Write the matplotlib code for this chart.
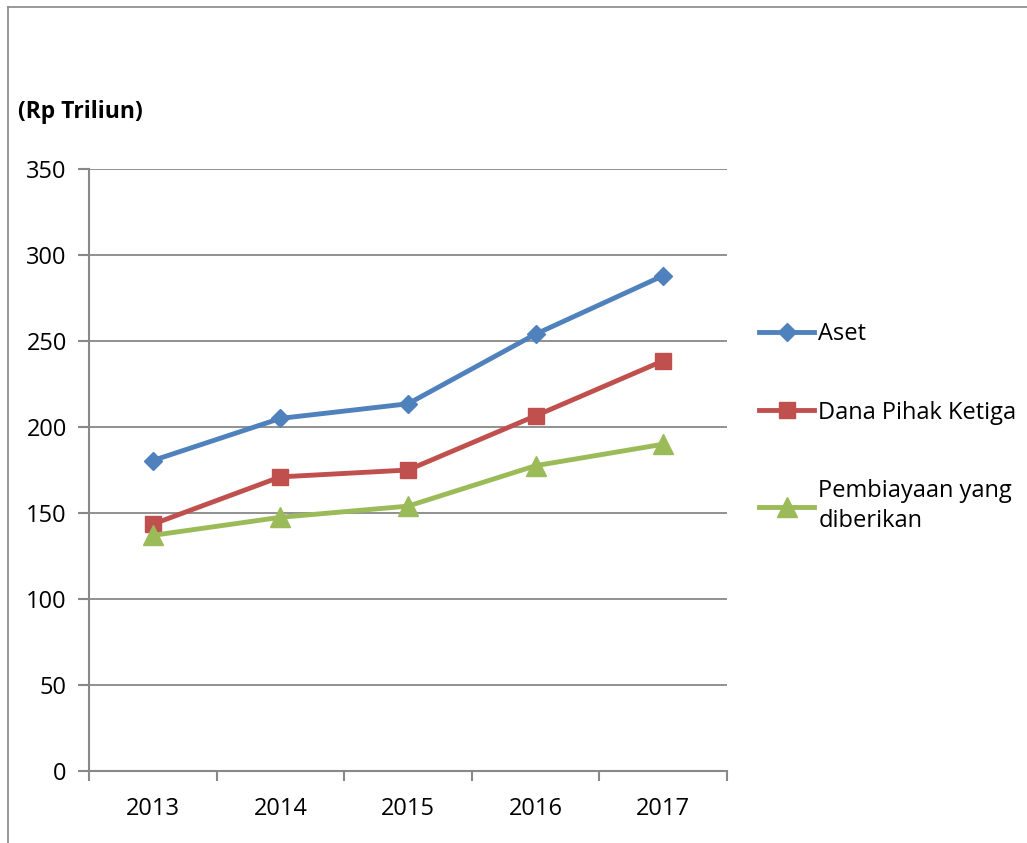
import matplotlib.pyplot as plt
from matplotlib.lines import Line2D

plt.rcParams['font.family'] = ['Open Sans', 'DejaVu Sans']

years = ['2013', '2014', '2015', '2016', '2017']
aset = [180.5, 205.0, 213.5, 254.0, 288.0]
dpk = [143.5, 171.0, 175.0, 206.5, 238.5]
pembiayaan = [137.0, 147.5, 154.0, 177.5, 190.0]
labels = ['Aset', 'Dana Pihak Ketiga', 'Pembiayaan yang\ndiberikan']

fig = plt.figure(figsize=(10.27, 8.43), dpi=100)
ax = fig.add_axes([89/1027, 72/843, 638/1027, 602/843])

x = range(len(years))
ax.plot(x, aset, color='#4F81BD', lw=3.5, marker='D', ms=9, label=labels[0])
ax.plot(x, dpk, color='#C0504D', lw=3.5, marker='s', ms=12, label=labels[1])
ax.plot(x, pembiayaan, color='#9BBB59', lw=3.5, marker='^', ms=14, label=labels[2])

ax.set_xlim(-0.5, 4.5)
ax.set_ylim(0, 350)
ax.set_yticks(range(0, 351, 50))
ax.set_xticks([i - 0.5 for i in range(6)], minor=False)
ax.set_xticklabels([])
ax.set_xticks(list(x), minor=True)
ax.set_xticklabels(years, minor=True)
ax.tick_params(axis='x', which='minor', length=0, pad=19, labelsize=17)
ax.tick_params(axis='x', which='major', length=7, width=1.5, color='#888888', direction='out')
ax.tick_params(axis='y', length=8, width=1.5, color='#888888', labelsize=17, pad=8)
ax.grid(axis='y', color='#888888', lw=1.3)
ax.set_axisbelow(True)
for s in ['top', 'right']:
    ax.spines[s].set_visible(False)
for s in ['left', 'bottom']:
    ax.spines[s].set_color('#888888')
    ax.spines[s].set_linewidth(1.5)

fig.text(18/1027, 1 - 112/843, '(Rp Triliun)', fontsize=16.5, fontweight='bold', va='center')

leg = ax.legend(loc='upper left', bbox_to_anchor=(750/1027, 1 - 313/843), bbox_transform=fig.transFigure,
                frameon=False, fontsize=17, handlelength=2.3, handletextpad=0.2, labelspacing=2.3,
                borderaxespad=0)
for t in leg.get_texts():
    t.set_linespacing(1.35)

# outer frame (left and top edges of the embedded chart)
fig.add_artist(Line2D([8/1027, 8/1027], [0, 1 - 7/843], color='#888888', lw=1.2))
fig.add_artist(Line2D([8/1027, 1], [1 - 7/843, 1 - 7/843], color='#888888', lw=1.2))

fig.savefig('out.png', dpi=100)
